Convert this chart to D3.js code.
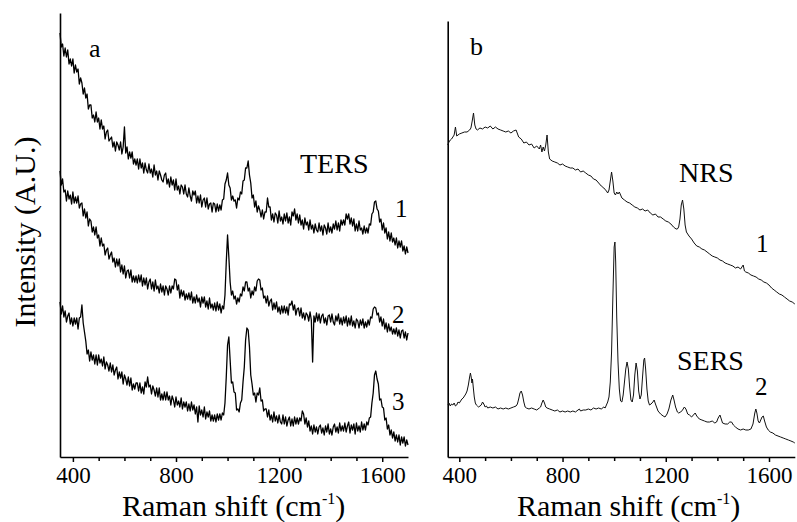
<!DOCTYPE html>
<html><head><meta charset="utf-8">
<script src="https://cdn.jsdelivr.net/npm/d3@7"></script>
</head><body style="margin:0;background:#fff">
<svg id="chart" width="797" height="522" style="display:block"></svg>
<script>
// Sampling grid (cm-1) for the TERS spectra of panel a
const tersWavenumbers = d3.range(350, 1701, 5);

// Panel a: TERS spectra (intensity, arbitrary units, offset as plotted)
const ters1 = [
424,410,413,401,409,400,407,393,398,391,398,384,392,385,388,373,379,374,363,369,
359,363,348,352,352,339,342,335,345,335,339,328,337,328,331,318,325,327,316,318,
320,310,315,306,315,312,307,315,303,310,330,304,310,298,305,299,305,293,298,292,
298,288,298,289,294,284,294,287,284,293,284,288,280,292,282,286,277,286,282,277,
275,282,284,273,278,270,280,272,277,267,278,267,271,263,272,270,263,272,263,260,
269,261,256,266,262,266,254,261,254,262,250,257,259,250,259,248,253,254,245,254,
253,245,253,246,252,247,257,258,273,277,284,272,269,257,261,256,257,249,259,257,
265,263,276,277,289,289,296,282,274,259,262,250,256,245,251,247,240,247,238,245,
245,259,250,250,237,243,235,244,242,234,246,236,240,233,243,236,244,234,240,232,
245,241,248,237,243,234,242,232,237,228,239,232,235,227,237,228,232,224,233,227,
225,234,226,231,222,232,229,223,234,225,230,224,233,228,236,227,234,226,237,232,
237,232,243,238,243,233,239,231,238,226,233,226,236,227,229,223,231,224,229,224,
233,232,243,245,255,256,248,246,235,238,227,234,224,229,218,225,216,224,215,219,
212,219,209,216,210,216,206,211,203,210,204];

const ters2 = [
286,272,278,265,267,256,266,258,262,253,265,254,260,254,261,249,253,254,241,248,
239,245,231,238,236,225,230,222,230,219,222,211,219,211,213,202,207,209,198,202,
205,195,199,190,198,191,198,185,192,183,191,179,186,187,179,187,175,181,175,181,
174,182,175,182,171,179,172,179,168,175,178,168,175,166,177,168,171,164,173,165,
171,162,171,168,162,171,164,171,168,178,177,167,172,159,167,161,166,157,163,158,
164,157,165,154,160,154,162,155,159,150,160,154,160,150,156,148,159,149,153,147,
154,146,155,147,153,144,151,148,162,195,222,200,175,162,166,158,161,153,159,155,
163,161,170,166,175,175,166,169,159,166,162,170,166,176,178,177,167,169,159,161,
154,161,151,156,158,147,154,148,155,145,150,143,151,144,151,144,150,142,153,152,
156,147,152,142,148,149,141,149,139,144,137,144,142,136,145,137,95,141,135,144,
136,143,134,141,143,134,139,132,141,142,135,143,135,132,141,136,143,133,139,132,
140,134,141,131,139,132,141,131,136,129,138,136,129,137,132,138,129,135,130,137,
132,140,139,148,150,149,142,144,135,140,131,138,128,134,125,133,126,130,123,128,
123,129,121,127,119,126,127,119,125,117,124];

const ters3 = [
155,143,151,140,146,135,141,144,133,139,131,139,133,139,128,139,140,152,134,125,
116,103,107,96,105,97,102,93,102,92,102,94,98,91,100,88,95,92,86,94,
85,92,82,87,90,78,85,79,85,73,82,78,72,80,71,79,67,73,68,74,
74,66,74,64,70,63,75,70,80,70,72,63,71,67,61,69,60,69,57,63,
57,65,57,65,57,61,52,61,57,50,60,52,56,50,59,48,55,50,55,46,
53,46,55,47,52,43,50,35,51,42,47,40,50,38,45,40,46,36,42,36,
42,35,43,37,43,37,44,42,54,80,112,120,97,74,75,65,64,47,48,45,
54,57,75,90,117,129,127,110,82,73,62,64,55,64,62,69,56,57,46,48,
48,40,47,37,42,35,45,36,41,34,42,35,33,42,33,40,31,37,40,31,
38,31,40,33,39,33,39,36,46,43,33,39,30,36,26,31,23,32,25,30,
23,30,32,24,29,22,31,25,33,23,28,22,30,33,25,30,24,34,26,31,
26,34,25,31,35,24,32,27,33,23,34,26,31,25,35,27,33,27,35,32,
39,40,54,64,82,86,78,73,57,58,50,49,37,39,28,32,22,27,19,25,
16,22,15,22,12,20,14,20,11,17,12];

// Panel b: NRS (1) and SERS (2) spectra as [wavenumber, intensity]
const nrs = [[355,312],[360,315],[365,317],[370,318],[375,320],[380,322],[385,330],[390,321],[400,323],[410,324],[420,325],[430,325],[440,327],[445,329],[450,336],[455,344],[460,332],[465,328],[470,327],[480,329],[490,328],[500,330],[510,329],[520,331],[530,328],[540,330],[550,328],[560,327],[570,326],[580,325],[590,326],[600,324],[610,326],[620,327],[630,320],[640,318],[650,314],[660,315],[670,312],[680,313],[690,309],[700,311],[710,308],[715,312],[720,305],[725,310],[730,306],[735,312],[740,322],[745,305],[750,298],[755,297],[760,296],[770,295],[780,294],[790,292],[800,293],[810,291],[820,290],[830,289],[840,289],[850,287],[860,288],[870,285],[880,286],[890,284],[900,282],[910,281],[920,278],[930,277],[940,274],[950,271],[960,269],[970,266],[975,264],[980,267],[985,276],[990,285],[995,276],[1000,264],[1005,262],[1010,265],[1015,263],[1020,265],[1025,262],[1030,259],[1040,257],[1050,255],[1060,254],[1070,252],[1080,250],[1090,249],[1100,247],[1110,248],[1120,246],[1130,247],[1140,244],[1150,242],[1160,243],[1170,240],[1180,240],[1190,238],[1200,236],[1210,235],[1220,233],[1230,230],[1240,228],[1245,228],[1250,230],[1255,238],[1260,252],[1265,257],[1270,248],[1275,232],[1280,225],[1290,221],[1300,218],[1310,214],[1320,211],[1330,210],[1340,208],[1350,207],[1360,205],[1370,203],[1380,201],[1390,200],[1400,199],[1410,197],[1420,196],[1430,194],[1440,193],[1450,192],[1460,191],[1470,189],[1480,190],[1490,188],[1500,192],[1505,186],[1510,185],[1520,184],[1530,182],[1540,181],[1550,180],[1560,178],[1570,177],[1580,175],[1590,174],[1600,172],[1610,169],[1620,167],[1630,165],[1640,163],[1650,162],[1660,160],[1670,158],[1680,156],[1690,155],[1700,153]];

const sers = [[356,52],[360,54],[365,51],[370,53],[375,52],[380,54],[385,51],[390,52],[395,55],[400,54],[405,56],[410,58],[415,59],[420,61],[425,63],[430,66],[435,72],[440,80],[443,84],[446,80],[449,74],[451,78],[454,70],[458,60],[462,54],[466,52],[470,51],[475,50],[480,51],[485,52],[490,55],[495,53],[500,50],[505,51],[510,49],[520,50],[530,49],[540,50],[550,48],[560,49],[570,48],[580,49],[590,48],[600,49],[610,50],[620,51],[625,53],[630,58],[635,64],[640,66],[645,62],[650,55],[655,50],[660,49],[670,48],[680,49],[690,48],[700,47],[710,49],[715,50],[720,54],[725,57],[730,54],[735,50],[740,49],[750,48],[760,47],[770,46],[780,47],[790,45],[800,46],[810,45],[820,46],[830,45],[840,46],[850,45],[860,47],[865,48],[870,46],[880,47],[890,47],[900,48],[910,47],[920,49],[930,48],[940,49],[950,48],[960,50],[965,49],[970,52],[975,55],[980,60],[985,75],[990,105],[995,160],[1000,210],[1003,215],[1006,195],[1010,140],[1015,95],[1020,68],[1025,56],[1030,55],[1035,62],[1040,75],[1045,88],[1050,95],[1055,88],[1060,70],[1065,57],[1070,55],[1075,62],[1080,82],[1085,94],[1090,86],[1095,66],[1100,58],[1105,62],[1110,80],[1115,97],[1118,99],[1122,88],[1127,68],[1132,56],[1137,52],[1143,53],[1150,55],[1155,57],[1160,53],[1170,46],[1180,43],[1190,41],[1197,40],[1205,43],[1212,48],[1220,57],[1227,62],[1232,57],[1238,50],[1245,45],[1250,44],[1258,45],[1265,47],[1272,50],[1278,48],[1285,43],[1292,42],[1300,40],[1307,42],[1314,44],[1320,41],[1330,38],[1340,37],[1350,36],[1360,35],[1370,35],[1380,36],[1390,34],[1397,35],[1403,39],[1410,42],[1415,38],[1420,34],[1430,33],[1440,33],[1448,35],[1455,35],[1462,32],[1470,30],[1480,28],[1490,27],[1500,28],[1510,27],[1520,27],[1530,28],[1538,33],[1545,44],[1549,48],[1553,44],[1558,36],[1563,34],[1568,37],[1573,40],[1578,41],[1583,36],[1590,30],[1597,27],[1605,25],[1615,24],[1625,22],[1635,21],[1645,20],[1655,19],[1665,18],[1675,17],[1685,16],[1694,15],[1700,14]];

const majorTicks = [400, 800, 1200, 1600];
const minorTicks = [500, 600, 700, 900, 1000, 1100, 1300, 1400, 1500];
const panelNames = ["a", "b"];
const xTitle = "Raman shift (cm";
const yTitle = "Intensity (A.U.)";

const SERIF = '"Liberation Serif"';
const svg = d3.select("#chart");

const xA = d3.scaleLinear().domain([350, 1700]).range([60, 408]);
const yA = d3.scaleLinear().domain([0, 444]).range([457, 13]);
const xB = d3.scaleLinear().domain([355, 1700]).range([447.7, 794.8]);
const yB = d3.scaleLinear().domain([0, 436]).range([457, 21]);

function drawAxes(x, y) {
  const gMinor = svg.append("g").attr("transform", "translate(0,457)")
    .call(d3.axisBottom(x).tickValues(minorTicks).tickSize(4).tickFormat(""));
  gMinor.select(".domain").remove();
  gMinor.selectAll(".tick line").attr("stroke", "#000").attr("stroke-width", 1.5);

  const gx = svg.append("g").attr("transform", "translate(0,457)")
    .call(d3.axisBottom(x).tickValues(majorTicks).tickSize(5).tickSizeOuter(0).tickFormat(d3.format("d")));
  gx.select(".domain").attr("stroke", "#000").attr("stroke-width", 1.6);
  gx.selectAll(".tick line").attr("stroke", "#000").attr("stroke-width", 1.5);
  gx.selectAll(".tick text").attr("y", 26).attr("dy", 0).attr("fill", "#000")
    .style("font-family", SERIF).style("font-size", "23px");

  const gy = svg.append("g").attr("transform", `translate(${x.range()[0]},0)`)
    .call(d3.axisLeft(y).tickValues([]).tickSizeOuter(0));
  gy.select(".domain").attr("stroke", "#000").attr("stroke-width", 1.6);
}

drawAxes(xA, yA);
drawAxes(xB, yB);

const lineA = d3.line().x((d, i) => xA(tersWavenumbers[i])).y(d => yA(d));
[ters1, ters2, ters3].forEach(s => {
  svg.append("path").datum(s).attr("d", lineA)
    .attr("fill", "none").attr("stroke", "#000").attr("stroke-width", 1.3)
    .attr("stroke-linejoin", "round");
});

const lineB = d3.line().x(d => xB(d[0])).y(d => yB(d[1]));
[nrs, sers].forEach(s => {
  svg.append("path").datum(s).attr("d", lineB)
    .attr("fill", "none").attr("stroke", "#111").attr("stroke-width", 1)
    .attr("stroke-linejoin", "round");
});

function label(txt, x, y, size) {
  svg.append("text").attr("x", x).attr("y", y)
    .style("font-family", SERIF).style("font-size", size + "px").attr("fill", "#000").text(txt);
}
label(panelNames[0], 89, 57, 26);
label(panelNames[1], 470, 55, 26);
label("TERS", 300, 173, 28);
label("1", 395, 217, 25);
label("2", 392, 323, 25);
label("3", 392, 410, 25);
label("NRS", 679, 182, 28);
label("1", 756, 252, 25);
label("SERS", 677, 370, 28);
label("2", 755, 395, 25);

[122, 517].forEach(x0 => {
  const t = svg.append("text").attr("x", x0).attr("y", 516)
    .style("font-family", SERIF).style("font-size", "30px").attr("fill", "#000");
  t.append("tspan").text(xTitle);
  t.append("tspan").attr("dy", -12).style("font-size", "16px").text("-1");
  t.append("tspan").attr("dy", 12).text(")");
});

svg.append("text")
  .attr("transform", "translate(35,232) rotate(-90)")
  .attr("text-anchor", "middle")
  .style("font-family", SERIF)
  .style("font-size", "30px")
  .attr("fill", "#000")
  .text(yTitle);
</script>
</body></html>
